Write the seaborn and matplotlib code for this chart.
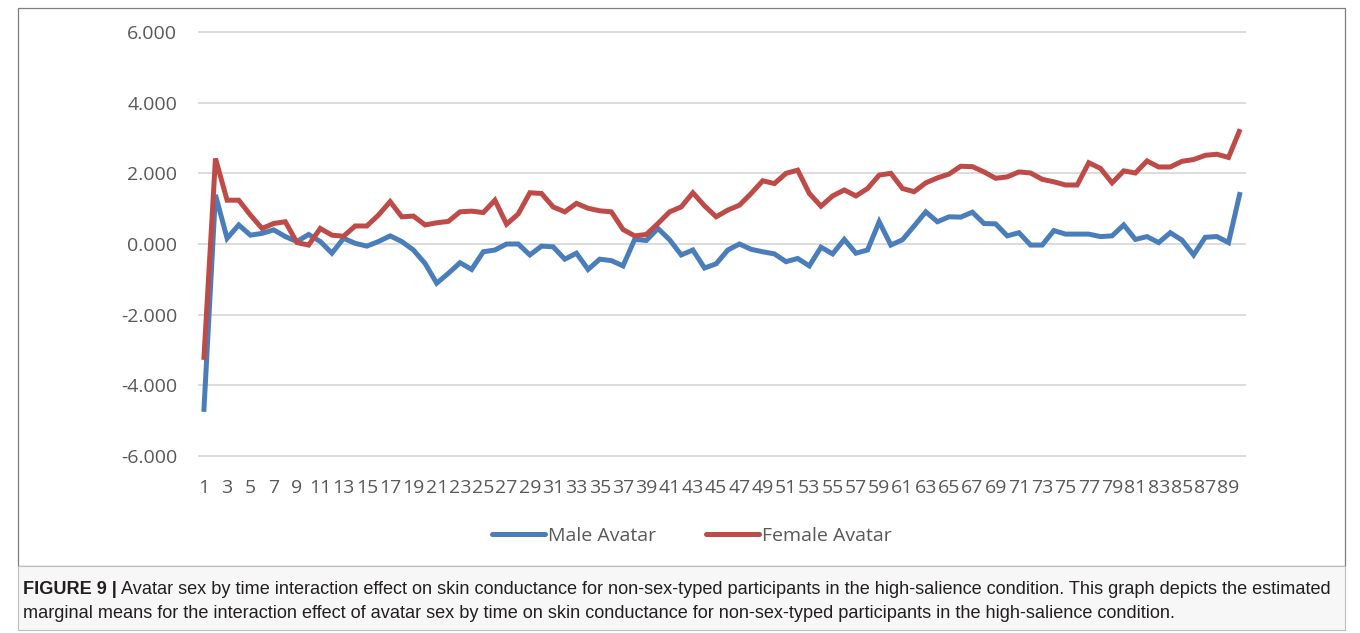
"""Avatar sex by time: skin conductance estimated marginal means."""

import matplotlib

matplotlib.use("Agg")
import matplotlib.pyplot as plt
import pandas as pd
import seaborn as sns
from matplotlib.lines import Line2D
from matplotlib.patches import Rectangle

time = list(range(1, 91))

male_avatar = [
    -4.75, 1.39, 0.16, 0.54, 0.25, 0.30, 0.40, 0.21, 0.07, 0.27,
    0.07, -0.26, 0.16, 0.02, -0.06, 0.07, 0.23, 0.07, -0.17, -0.55,
    -1.11, -0.83, -0.53, -0.72, -0.22, -0.17, 0.00, 0.00, -0.31, -0.06,
    -0.08, -0.43, -0.26, -0.72, -0.43, -0.47, -0.62, 0.13, 0.10, 0.44,
    0.12, -0.31, -0.17, -0.68, -0.56, -0.17, 0.00, -0.15, -0.22, -0.28,
    -0.50, -0.41, -0.62, -0.09, -0.28, 0.13, -0.26, -0.17, 0.63, -0.03,
    0.12, 0.51, 0.91, 0.63, 0.77, 0.76, 0.90, 0.58, 0.57, 0.23,
    0.32, -0.03, -0.03, 0.38, 0.28, 0.28, 0.28, 0.21, 0.23, 0.54,
    0.13, 0.21, 0.04, 0.32, 0.11, -0.31, 0.19, 0.21, 0.04, 1.47,
]

female_avatar = [
    -3.28, 2.42, 1.24, 1.24, 0.82, 0.44, 0.58, 0.63, 0.04, -0.03,
    0.44, 0.25, 0.22, 0.51, 0.51, 0.82, 1.20, 0.77, 0.79, 0.54,
    0.60, 0.64, 0.91, 0.93, 0.89, 1.24, 0.56, 0.85, 1.45, 1.43,
    1.05, 0.91, 1.15, 1.01, 0.94, 0.91, 0.41, 0.23, 0.27, 0.58,
    0.91, 1.05, 1.45, 1.08, 0.77, 0.96, 1.10, 1.43, 1.79, 1.71,
    2.00, 2.09, 1.43, 1.07, 1.36, 1.53, 1.36, 1.57, 1.95, 2.00,
    1.57, 1.48, 1.73, 1.87, 1.98, 2.20, 2.19, 2.04, 1.86, 1.90,
    2.04, 2.01, 1.83, 1.76, 1.67, 1.67, 2.30, 2.14, 1.73, 2.07,
    2.01, 2.35, 2.18, 2.18, 2.34, 2.39, 2.51, 2.54, 2.45, 3.25,
]

series_names = ["Male Avatar", "Female Avatar"]
series_colors = ["#4A7EBB", "#BE4B48"]
y_ticks = [-6, -4, -2, 0, 2, 4, 6]
x_ticks = list(range(1, 90, 2))

caption_bold = "FIGURE 9 |"
caption_line1 = (
    "Avatar sex by time interaction effect on skin conductance for non-sex-typed "
    "participants in the high-salience condition. This graph depicts the estimated"
)
caption_line2 = (
    "marginal means for the interaction effect of avatar sex by time on skin "
    "conductance for non-sex-typed participants in the high-salience condition."
)

df = pd.DataFrame({
    "time": time * 2,
    "value": male_avatar + female_avatar,
    "avatar": [series_names[0]] * len(time) + [series_names[1]] * len(time),
})

sns.set_theme(style="white")
plt.rcParams["font.family"] = ["Open Sans", "DejaVu Sans"]

W, H = 1360, 633
fig = plt.figure(figsize=(W / 100, H / 100), dpi=100)

# frames: chart box and caption box
fig.patches.append(Rectangle((18 / W, 1 - 566 / H), 1327 / W, 558 / H,
                             transform=fig.transFigure, fill=False,
                             edgecolor="#7f7f7f", linewidth=0.9))
fig.patches.append(Rectangle((18 / W, 1 - 630 / H), 1327 / W, 64 / H,
                             transform=fig.transFigure, facecolor="#f7f7f7",
                             edgecolor="#bdbdbd", linewidth=0.8))

pad = 0.1
top_px, bot_px = 32, 456
ppu = (bot_px - top_px) / 12
ax = fig.add_axes([198 / W, 1 - (bot_px + pad * ppu) / H, 1048 / W,
                   (bot_px - top_px + 2 * pad * ppu) / H])

sns.lineplot(data=df, x="time", y="value", hue="avatar", hue_order=series_names,
             palette=series_colors, linewidth=3.6, ax=ax, legend=False,
             solid_joinstyle="miter", solid_capstyle="butt")

ax.set_xlim(0.5, 90.5)
ax.set_ylim(-6 - pad, 6 + pad)
ax.set_yticks(y_ticks)
ax.set_yticklabels([f"{v:.3f}" for v in y_ticks])
ax.set_xticks(x_ticks)
ax.set_xticklabels([str(v) for v in x_ticks])
ax.tick_params(axis="both", length=0, labelsize=14, colors="#595959")
ax.tick_params(axis="y", pad=15)
ax.tick_params(axis="x", pad=14)
ax.yaxis.grid(True, color="#d9d9d9", linewidth=1.3)
ax.set_axisbelow(True)
ax.set_xlabel("")
ax.set_ylabel("")
for s in ax.spines.values():
    s.set_visible(False)

handles = [Line2D([], [], color=c, linewidth=3.6) for c in series_colors]
fig.legend(handles, series_names, loc="center", bbox_to_anchor=(692 / W, 1 - 536 / H),
           ncol=2, frameon=False, fontsize=14, labelcolor="#595959",
           handlelength=2.7, handletextpad=0.15, columnspacing=2.6)

fig.canvas.draw()
renderer = fig.canvas.get_renderer()
cap_font = ["Liberation Sans", "DejaVu Sans"]
cap_size = 13.1
tb = fig.text(23 / W, 1 - 589 / H, caption_bold, fontsize=cap_size, fontweight="bold",
              color="#231f20", family=cap_font, va="center")
bb = tb.get_window_extent(renderer)
fig.text(bb.x1 / W + 4 / W, 1 - 589 / H, caption_line1, fontsize=cap_size,
         color="#231f20", family=cap_font, va="center")
fig.text(23 / W, 1 - 613 / H, caption_line2, fontsize=cap_size,
         color="#231f20", family=cap_font, va="center")

fig.savefig("out.png", dpi=100)
